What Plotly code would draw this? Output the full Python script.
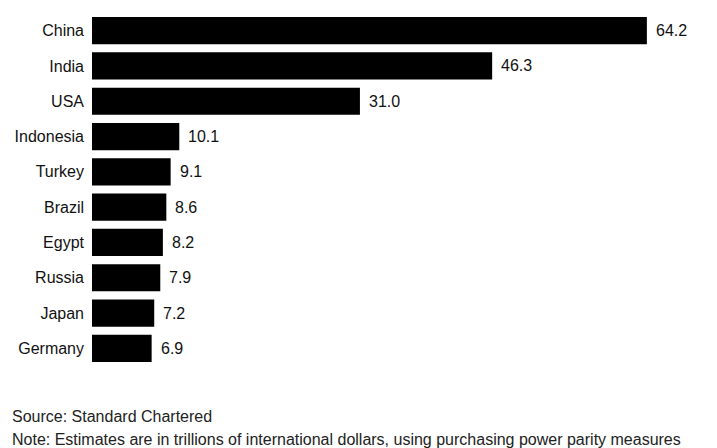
import plotly.graph_objects as go

countries = ["China", "India", "USA", "Indonesia", "Turkey", "Brazil", "Egypt", "Russia", "Japan", "Germany"]
values = [64.2, 46.3, 31.0, 10.1, 9.1, 8.6, 8.2, 7.9, 7.2, 6.9]
value_labels = ["64.2", "46.3", "31.0", "10.1", "9.1", "8.6", "8.2", "7.9", "7.2", "6.9"]
source_text = "Source: Standard Chartered"
note_text = "Note: Estimates are in trillions of international dollars, using purchasing power parity measures"

font = "Liberation Sans, Arial, sans-serif"

fig = go.Figure(go.Bar(
    x=values, y=countries, orientation="h",
    marker=dict(color="#000000", line=dict(width=0)),
    hoverinfo="skip",
))

for c, v, t in zip(countries, values, value_labels):
    fig.add_annotation(x=v, y=c, text=t, showarrow=False, xanchor="left",
                       xshift=7, font=dict(family=font, size=16, color="#111111"))

fig.update_layout(
    width=717, height=448,
    margin=dict(l=92, r=20, t=13, b=82),
    paper_bgcolor="white", plot_bgcolor="white",
    bargap=0.23,
    showlegend=False,
    xaxis=dict(range=[0, 70], visible=False, fixedrange=True),
    yaxis=dict(autorange="reversed", showgrid=False, zeroline=False, showline=False,
               ticks="", ticklabelstandoff=7,
               tickfont=dict(family=font, size=16, color="#111111")),
    font=dict(family=font),
)

H = 448
plot_h = H - 13 - 82
def paper_y(py):
    return (H - 82 - py) / plot_h

for txt, py in [(source_text, 416), (note_text, 439)]:
    fig.add_annotation(x=-82 / 605, y=paper_y(py), xref="paper", yref="paper", text=txt,
                       showarrow=False, xanchor="left", yanchor="middle",
                       font=dict(family=font, size=16, color="#222222"))

fig.write_html("out.html")
